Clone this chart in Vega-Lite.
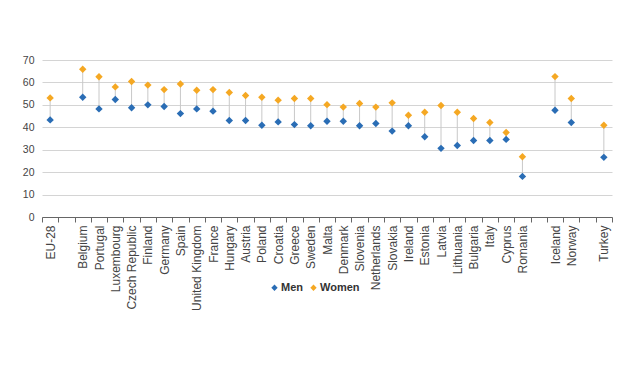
{
  "$schema": "https://vega.github.io/schema/vega-lite/v6.json",
  "width": 570,
  "height": 157,
  "autosize": "none",
  "padding": {"left": 42, "top": 60, "right": 8, "bottom": 151},
  "background": "white",
  "config": {
    "view": {"stroke": null},
    "font": "Liberation Sans",
    "axis": {"labelFont": "Liberation Sans", "labelColor": "#444", "labelFontSize": 10}
  },
  "data": {"values": [
    {"country": "EU-28", "Men": 43.3, "Women": 53.1},
    {"country": "Belgium", "Men": 53.4, "Women": 65.9},
    {"country": "Portugal", "Men": 48.2, "Women": 62.5},
    {"country": "Luxembourg", "Men": 52.4, "Women": 58.0},
    {"country": "Czech Republic", "Men": 48.7, "Women": 60.4},
    {"country": "Finland", "Men": 50.0, "Women": 58.8},
    {"country": "Germany", "Men": 49.3, "Women": 56.8},
    {"country": "Spain", "Men": 46.1, "Women": 59.3},
    {"country": "United Kingdom", "Men": 48.2, "Women": 56.5},
    {"country": "France", "Men": 47.2, "Women": 56.8},
    {"country": "Hungary", "Men": 43.0, "Women": 55.5},
    {"country": "Austria", "Men": 43.0, "Women": 54.2},
    {"country": "Poland", "Men": 40.9, "Women": 53.4},
    {"country": "Croatia", "Men": 42.4, "Women": 52.1},
    {"country": "Greece", "Men": 41.2, "Women": 52.8},
    {"country": "Sweden", "Men": 40.7, "Women": 52.8},
    {"country": "Malta", "Men": 42.7, "Women": 50.1},
    {"country": "Denmark", "Men": 42.7, "Women": 49.0},
    {"country": "Slovenia", "Men": 40.7, "Women": 50.6},
    {"country": "Netherlands", "Men": 41.7, "Women": 49.0},
    {"country": "Slovakia", "Men": 38.3, "Women": 50.9},
    {"country": "Ireland", "Men": 40.7, "Women": 45.4},
    {"country": "Estonia", "Men": 35.8, "Women": 46.7},
    {"country": "Latvia", "Men": 30.6, "Women": 49.7},
    {"country": "Lithuania", "Men": 31.9, "Women": 46.7},
    {"country": "Bulgaria", "Men": 34.1, "Women": 43.9},
    {"country": "Italy", "Men": 34.1, "Women": 42.1},
    {"country": "Cyprus", "Men": 34.6, "Women": 37.7},
    {"country": "Romania", "Men": 18.1, "Women": 26.9},
    {"country": "Iceland", "Men": 47.6, "Women": 62.6},
    {"country": "Norway", "Men": 42.1, "Women": 52.8},
    {"country": "Turkey", "Men": 26.6, "Women": 40.9}
  ]},
  "encoding": {
    "x": {
      "field": "country", "type": "nominal",
      "scale": {"domain": ["EU-28", " ", "Belgium", "Portugal", "Luxembourg", "Czech Republic", "Finland", "Germany", "Spain", "United Kingdom", "France", "Hungary", "Austria", "Poland", "Croatia", "Greece", "Sweden", "Malta", "Denmark", "Slovenia", "Netherlands", "Slovakia", "Ireland", "Estonia", "Latvia", "Lithuania", "Bulgaria", "Italy", "Cyprus", "Romania", "  ", "Iceland", "Norway", "   ", "Turkey"], "paddingInner": 0, "paddingOuter": 0},
      "axis": {"title": null, "labelAngle": -90, "labelAlign": "right", "labelBaseline": "middle", "tickBand": "extent", "tickSize": 5, "tickColor": "#666", "domainColor": "#666", "labelPadding": 3, "grid": false, "labelFontSize": 12}
    }
  },
  "layer": [
    {
      "mark": {"type": "rule", "color": "#c8c8c8", "strokeWidth": 1},
      "encoding": {
        "y": {
          "field": "Men", "type": "quantitative",
          "scale": {"domain": [0, 70], "nice": false},
          "axis": {"title": null, "values": [0, 10, 20, 30, 40, 50, 60, 70], "labelOverlap": false, "domain": false, "ticks": false, "labelPadding": 8, "gridColor": "#d4d4d4", "gridWidth": 1, "labelFontSize": 10.5}
        },
        "y2": {"field": "Women"}
      }
    },
    {
      "transform": [{"fold": ["Men", "Women"], "as": ["sex", "value"]}],
      "mark": {"type": "point", "shape": "diamond", "filled": true, "size": 55, "opacity": 1},
      "encoding": {
        "y": {
          "field": "value", "type": "quantitative",
          "scale": {"domain": [0, 70], "nice": false},
          "axis": {"title": null, "values": [0, 10, 20, 30, 40, 50, 60, 70], "labelOverlap": false, "domain": false, "ticks": false, "labelPadding": 8, "gridColor": "#d4d4d4", "gridWidth": 1, "labelFontSize": 10.5}
        },
        "color": {
          "field": "sex", "type": "nominal",
          "scale": {"domain": ["Men", "Women"], "range": ["#2a6db5", "#f5a823"]},
          "legend": {"title": null, "orient": "none", "direction": "horizontal", "legendX": 227, "legendY": 222, "symbolType": "diamond", "symbolSize": 40, "labelFontSize": 11, "labelFontWeight": "bold", "labelColor": "#333", "columnPadding": 5, "labelOffset": 1}
        }
      }
    }
  ]
}
